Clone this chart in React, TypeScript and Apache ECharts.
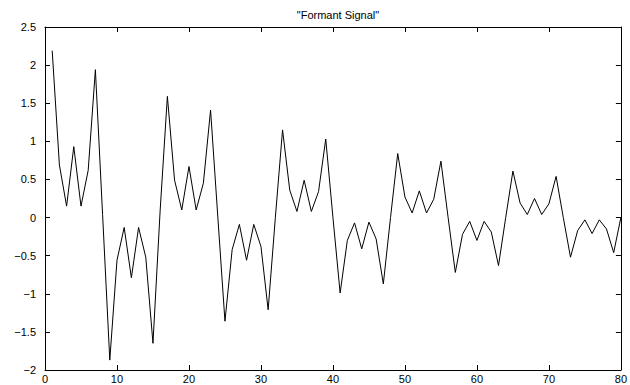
import React, { useEffect, useRef } from "react";
import * as echarts from "echarts";

const titleText = '"Formant Signal"';
const xTicks = [0, 80, 10];
const yTicks = [-2, 2.5, 0.5];
const signal = [
  2.19, 0.69, 0.15, 0.93, 0.15, 0.62, 1.94, 0.04,
  -1.87, -0.56, -0.13, -0.79, -0.13, -0.52, -1.65, 0.1,
  1.59, 0.49, 0.1, 0.67, 0.1, 0.45, 1.41, 0.02,
  -1.36, -0.42, -0.09, -0.56, -0.09, -0.38, -1.21, 0.0,
  1.15, 0.36, 0.08, 0.49, 0.08, 0.34, 1.03, 0.0,
  -0.99, -0.3, -0.07, -0.41, -0.06, -0.28, -0.87, 0.0,
  0.84, 0.27, 0.06, 0.35, 0.06, 0.24, 0.74, 0.0,
  -0.72, -0.22, -0.05, -0.3, -0.05, -0.19, -0.63, 0.0,
  0.61, 0.19, 0.04, 0.25, 0.04, 0.18, 0.54, 0.0,
  -0.52, -0.17, -0.03, -0.21, -0.03, -0.15, -0.46, 0.0,
];

const FONT = "'Liberation Sans', Arial, sans-serif";

export default function App() {
  const ref = useRef<HTMLDivElement>(null);
  useEffect(() => {
    document.body.style.margin = "0";
    const chart = echarts.init(ref.current!, null, { renderer: "svg" });
    const fmt = (v: number) => String(v).replace("-", "\u2212");
    const axisLine = { show: true, onZero: false, lineStyle: { color: "#000", width: 1 } };
    const axisTick = { show: true, inside: true, length: 5, lineStyle: { color: "#000", width: 1 } };
    const xBase = {
      type: "value" as const,
      min: xTicks[0],
      max: xTicks[1],
      interval: xTicks[2],
      axisLine,
      axisTick,
      splitLine: { show: false },
    };
    const yBase = {
      type: "value" as const,
      min: yTicks[0],
      max: yTicks[1],
      interval: yTicks[2],
      axisLine,
      axisTick,
      splitLine: { show: false },
    };
    chart.setOption({
      animation: false,
      backgroundColor: "#fff",
      title: {
        text: titleText,
        left: 333,
        textAlign: "center",
        top: 4,
        textStyle: { fontFamily: FONT, fontSize: 11, fontWeight: "normal", color: "#000" },
      },
      grid: { left: 45, right: 9, top: 27, bottom: 15, containLabel: false },
      xAxis: [
        {
          ...xBase,
          position: "bottom",
          axisLabel: { color: "#000", fontFamily: FONT, fontSize: 11, margin: 3, formatter: fmt },
        },
        { ...xBase, position: "top", axisLabel: { show: false } },
      ],
      yAxis: [
        {
          ...yBase,
          position: "left",
          axisLabel: { color: "#000", fontFamily: FONT, fontSize: 11, margin: 9, formatter: fmt },
        },
        { ...yBase, position: "right", axisLabel: { show: false } },
      ],
      series: [
        {
          type: "line",
          xAxisIndex: 0,
          yAxisIndex: 0,
          data: signal.map((v, i) => [i + 1, v]),
          showSymbol: false,
          symbol: "none",
          lineStyle: { color: "#000", width: 1 },
        },
      ],
    });
    return () => chart.dispose();
  }, []);
  return <div ref={ref} style={{ position: "absolute", left: 0, top: 0, width: 630, height: 385 }} />;
}
